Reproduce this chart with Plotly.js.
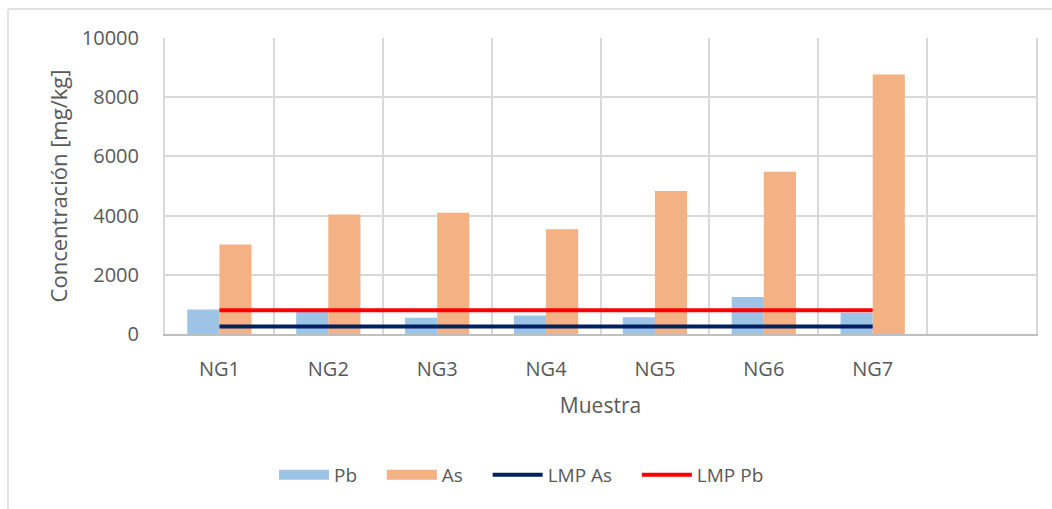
<!DOCTYPE html>
<html>
<head>
<meta charset="utf-8">
<script src="https://cdn.plot.ly/plotly-3.0.1.min.js"></script>
<style>
  html, body { margin: 0; padding: 0; background: #ffffff; }
  #chart { width: 1052px; height: 509px; }
</style>
</head>
<body>
<div id="chart"></div>
<script>
// ---- data ----
const categories = ['NG1', 'NG2', 'NG3', 'NG4', 'NG5', 'NG6', 'NG7'];
const axisCategories = ['NG1', 'NG2', 'NG3', 'NG4', 'NG5', 'NG6', 'NG7', ' '];
const pbValues = [830, 750, 550, 625, 570, 1250, 720];
const asValues = [3020, 4040, 4100, 3540, 4830, 5480, 8770];
const lmpAs = [250, 250, 250, 250, 250, 250, 250];
const lmpPb = [800, 800, 800, 800, 800, 800, 800];
const yTicks = [0, 2000, 4000, 6000, 8000, 10000];

const textColor = '#595959';
const fontFamily = '"Open Sans", "Noto Sans", sans-serif';
const pbColor = '#9DC3E6';
const asColor = '#F4B183';
const pad = '\u00a0\u00a0\u00a0\u00a0';

const traces = [
  { type: 'bar', name: 'Pb', x: categories, y: pbValues, showlegend: false,
    marker: { color: pbColor } },
  { type: 'bar', name: 'As', x: categories, y: asValues, showlegend: false,
    marker: { color: asColor } },
  // legend-only swatches (wide rectangles like the original legend)
  { type: 'scatter', mode: 'lines', name: 'Pb' + pad, x: [null], y: [null],
    line: { color: pbColor, width: 14 } },
  { type: 'scatter', mode: 'lines', name: 'As' + pad, x: [null], y: [null],
    line: { color: asColor, width: 14 } },
  { type: 'scatter', mode: 'lines', name: 'LMP As' + pad, x: categories, y: lmpAs,
    line: { color: '#002060', width: 4 } },
  { type: 'scatter', mode: 'lines', name: 'LMP Pb', x: categories, y: lmpPb,
    line: { color: '#FF0000', width: 4 } }
];

const layout = {
  width: 1052, height: 509,
  margin: { l: 165, r: 16, t: 38, b: 175 },
  paper_bgcolor: '#ffffff', plot_bgcolor: '#ffffff',
  font: { family: fontFamily, color: textColor, size: 20 },
  barmode: 'group', bargap: 0.41, bargroupgap: 0,
  showlegend: true,
  legend: {
    orientation: 'h', xref: 'container', yref: 'container',
    x: 0.2605, xanchor: 'left', y: 0.067, yanchor: 'middle',
    font: { size: 19, color: textColor }, traceorder: 'normal',
    itemwidth: 50
  },
  xaxis: {
    type: 'category', categoryorder: 'array', categoryarray: axisCategories,
    range: [-0.5, 7.5], tickson: 'boundaries', ticks: '',
    showgrid: true, gridcolor: '#d9d9d9', gridwidth: 2,
    showline: true, linecolor: '#bfbfbf', linewidth: 2,
    tickfont: { size: 20, color: textColor }, ticklabelstandoff: 16,
    title: { text: 'Muestra', font: { size: 21, color: textColor }, standoff: 17 },
    fixedrange: true
  },
  yaxis: {
    range: [0, 10000], tickvals: yTicks, ticktext: yTicks.map(String),
    showgrid: true, gridcolor: '#d9d9d9', gridwidth: 2, zeroline: false,
    showline: true, linecolor: '#d9d9d9', linewidth: 2, mirror: true,
    tickfont: { size: 20, color: textColor }, ticklabelstandoff: 20,
    title: { text: 'Concentración [mg/kg]', font: { size: 22, color: textColor }, standoff: 8 },
    fixedrange: true
  },
  shapes: [
    { type: 'line', xref: 'paper', yref: 'paper', x0: -0.1803, x1: 1.03, y0: 1.098, y1: 1.098,
      line: { color: '#d9d9d9', width: 1.5 } },
    { type: 'line', xref: 'paper', yref: 'paper', x0: -0.1803, x1: -0.1803, y0: 1.098, y1: -0.65,
      line: { color: '#d9d9d9', width: 1.5 } }
  ]
};

Plotly.newPlot('chart', traces, layout, { staticPlot: true, displayModeBar: false });
</script>
</body>
</html>
